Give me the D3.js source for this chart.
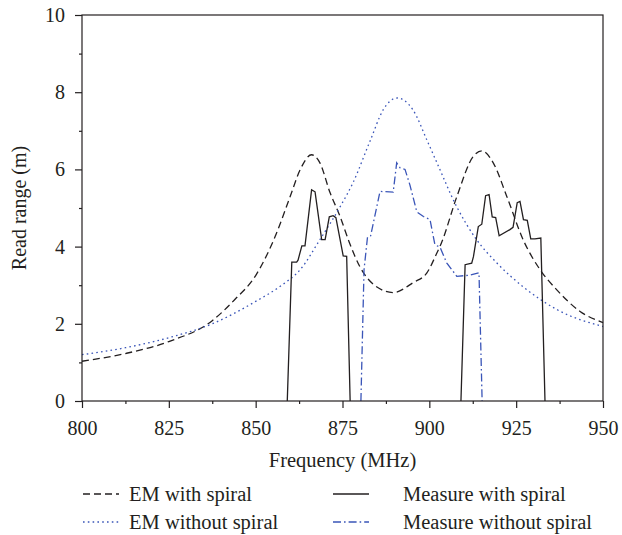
<!DOCTYPE html>
<html>
<head>
<meta charset="utf-8">
<script src="https://cdn.jsdelivr.net/npm/d3@7"></script>
<style>
  body { margin: 0; background: #fff; }
  svg { display: block; }
  text { font-family: "Liberation Serif", "DejaVu Serif", serif; fill: #231f20; }
</style>
</head>
<body>
<svg id="svg" width="622" height="535"></svg>
<script>
// EM simulation, with spiral
let emWithFreq = [800, 812.5, 825, 837.5, 844, 850, 855.6, 859.9, 862.8, 866.1, 868.5, 871.4, 874.3, 877, 880, 884.8, 889.6, 895.4, 899.3, 902, 903.5, 907.9, 912.6, 915.1, 918.4, 922.3, 927, 931.9, 936.7, 943.4, 950];
let emWithVal  = [1.03, 1.23, 1.54, 2.08, 2.63, 3.25, 4.26, 5.29, 5.99, 6.38, 6.17, 5.4, 4.78, 4.1, 3.48, 2.96, 2.81, 3.07, 3.32, 3.8, 4.1, 5.29, 6.33, 6.48, 6.17, 5.3, 4.18, 3.4, 2.88, 2.32, 2.03];

// EM simulation, without spiral
let emWithoutFreq = [800, 812.5, 825, 837.5, 850, 857.5, 862.8, 868.5, 874.3, 878, 883, 886.7, 890.7, 895.3, 899.3, 902.2, 907.9, 913.6, 919.4, 927, 936.7, 950];
let emWithoutVal  = [1.2, 1.38, 1.64, 2.0, 2.58, 3.0, 3.4, 4.18, 5.03, 5.65, 6.75, 7.54, 7.85, 7.54, 6.76, 6.17, 5.03, 4.18, 3.58, 2.96, 2.37, 1.93];

// measured, with spiral (null splits the two bands)
let measWithFreq = [859.1, 860.4, 861.8, 862.2, 863.3, 864.2, 866.1, 867.1, 869, 870, 871.2, 872.3, 873.1, 875.2, 876.2, 877.2, null,
  909.1, 910.3, 912.2, 912.7, 914.1, 915.1, 916.2, 917.2, 918.1, 919.1, 920.1, 923.2, 924.1, 925.3, 926.1, 927.1, 928.2, 929.2, 930.4, 932.1, 933.3];
let measWithVal  = [0, 3.6, 3.6, 3.65, 4.02, 4.02, 5.47, 5.42, 4.18, 4.18, 4.77, 4.8, 4.75, 3.76, 3.75, 0, null,
  0, 3.53, 3.57, 3.74, 4.52, 4.58, 5.32, 5.35, 4.77, 4.75, 4.28, 4.44, 4.5, 5.14, 5.17, 4.7, 4.68, 4.2, 4.2, 4.22, 0];

// measured, without spiral
let measWithoutFreq = [880.3, 881.2, 882.2, 883.1, 885.8, 889.6, 890.6, 891.6, 893, 894.4, 896.4, 898.3, 900.2, 901.6, 903.1, 905, 907.9, 911.7, 914.3, 915.2];
let measWithoutVal  = [0, 3.4, 4.25, 4.28, 5.43, 5.41, 6.17, 6.04, 6.0, 5.6, 4.9, 4.78, 4.7, 4.05, 3.98, 3.58, 3.23, 3.26, 3.32, 0];

let xTicks = [800, 825, 850, 875, 900, 925, 950];
let yTicks = [0, 2, 4, 6, 8, 10];
let xMinor = [812.5, 837.5, 862.5, 887.5, 912.5, 937.5];
let yMinor = [1, 3, 5, 7, 9];

let legendNames = ["EM with spiral", "EM without spiral", "Measure with spiral", "Measure without spiral"];

let svg = d3.select("#svg");
let padding = {top: 15, right: 19, bottom: 134, left: 82};
let ink = "#231f20", blue = "#3a55b8";

let area = {
	width: 622 - padding.left - padding.right,
	height: 535 - padding.top - padding.bottom
};

let xScale = d3.scaleLinear().domain([800, 950]).range([0, area.width]);
let yScale = d3.scaleLinear().domain([0, 10]).range([area.height, 0]);

let plot = svg.append("g")
	.attr("transform", "translate(" + padding.left + "," + padding.top + ")");

function zip(fs, vs) {
	return fs.map(function(f, i) { return {f: f, v: vs[i]}; });
}

let series = [
	{data: zip(emWithFreq, emWithVal), color: ink, dash: "7,4", curve: d3.curveMonotoneX},
	{data: zip(emWithoutFreq, emWithoutVal), color: blue, dash: "1.6,3.2", curve: d3.curveMonotoneX},
	{data: zip(measWithFreq, measWithVal), color: ink, dash: null, curve: d3.curveLinear},
	{data: zip(measWithoutFreq, measWithoutVal), color: blue, dash: "8,3,1.6,3", curve: d3.curveLinear}
];

series.forEach(function(s) {
	let line = d3.line()
		.defined(function(d) { return d.f !== null; })
		.x(function(d) { return xScale(d.f); })
		.y(function(d) { return yScale(d.v); })
		.curve(s.curve);
	plot.append("path")
		.datum(s.data)
		.attr("fill", "none")
		.attr("stroke", s.color)
		.attr("stroke-width", 1.3)
		.attr("stroke-dasharray", s.dash)
		.attr("d", line);
});

// frame
plot.append("rect")
	.attr("width", area.width)
	.attr("height", area.height)
	.attr("fill", "none")
	.attr("stroke", ink)
	.attr("stroke-width", 1.2);

// axes
plot.append("g")
	.attr("transform", "translate(0," + area.height + ")")
	.call(d3.axisBottom(xScale).tickValues(xTicks).tickSize(7).tickPadding(13).tickFormat(d3.format("d")));
plot.append("g")
	.attr("transform", "translate(0," + area.height + ")")
	.call(d3.axisBottom(xScale).tickValues(xMinor).tickSize(3).tickFormat(""));

plot.append("g")
	.call(d3.axisLeft(yScale).tickValues(yTicks).tickSize(7).tickPadding(10).tickFormat(d3.format("d")));
plot.append("g")
	.call(d3.axisLeft(yScale).tickValues(yMinor).tickSize(3).tickFormat(""));

plot.selectAll(".domain").remove();
plot.selectAll(".tick line").attr("stroke", ink).attr("stroke-width", 1.2);
plot.selectAll(".tick text")
	.style("font-family", '"Liberation Serif", serif')
	.style("font-size", "20px")
	.attr("fill", ink);

// axis titles
svg.append("text")
	.attr("x", padding.left + area.width / 2)
	.attr("y", 467)
	.attr("text-anchor", "middle")
	.style("font-size", "20.5px")
	.text("Frequency (MHz)");

svg.append("text")
	.attr("transform", "translate(26," + (padding.top + area.height / 2) + ") rotate(-90)")
	.attr("text-anchor", "middle")
	.style("font-size", "20px")
	.text("Read range (m)");

// legend
let legendPos = [
	{x: 83, y: 494}, {x: 83, y: 522},
	{x: 333, y: 494}, {x: 333, y: 522}
];
let textOffset = [46, 46, 70, 70];

let legend = svg.append("g");
series.forEach(function(s, i) {
	let p = legendPos[i];
	legend.append("line")
		.attr("x1", p.x).attr("x2", p.x + 36)
		.attr("y1", p.y).attr("y2", p.y)
		.attr("stroke", s.color)
		.attr("stroke-width", 1.3)
		.attr("stroke-dasharray", s.dash);
	legend.append("text")
		.attr("x", p.x + textOffset[i])
		.attr("y", p.y)
		.attr("dy", "0.33em")
		.style("font-size", "20.5px")
		.text(legendNames[i]);
});
</script>
</body>
</html>
